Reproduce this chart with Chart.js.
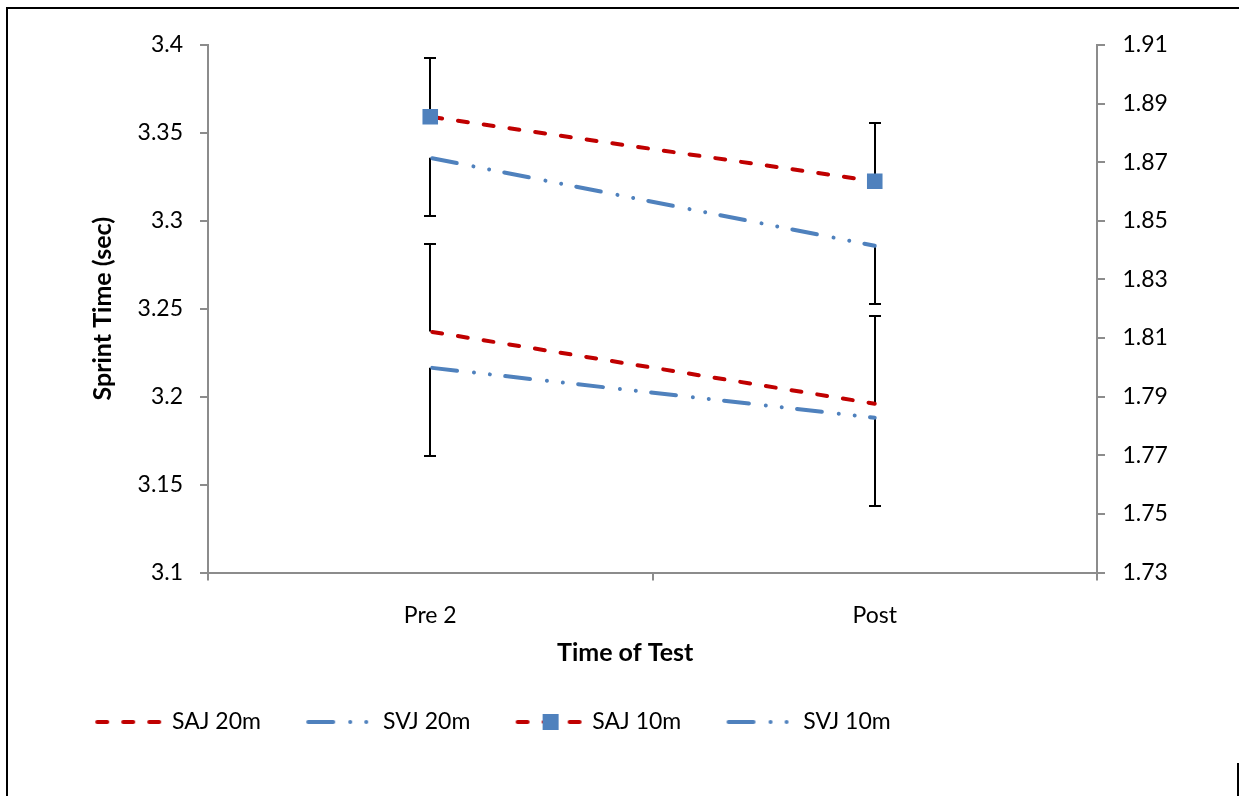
<!DOCTYPE html>
<html>
<head>
<meta charset="utf-8">
<script src="https://cdn.jsdelivr.net/npm/chart.js@4.4.0/dist/chart.umd.min.js"></script>
<style>
  body { margin: 0; background: #fff; }
  #wrap { width: 1239px; height: 796px; position: relative; }
</style>
</head>
<body>
<div id="wrap"><canvas id="sprintChart"></canvas></div>
<script>
const categories = ['Pre 2', 'Post']

// 20m times (left axis)
const saj20 = [3.237, 3.196]
const svj20 = [3.2165, 3.188]
// 10m times (right axis)
const saj10 = [1.8855, 1.8635]
const svj10 = [1.8715, 1.8415]

// error bars - SAJ ones only go up, SVJ ones only go down
const saj20Err = [0.05, 0.05]
const svj20Err = [0.05, 0.05]
const saj10Err = [0.02, 0.02]
const svj10Err = [0.02, 0.02]

// axis ranges
const leftMin = 3.1, leftMax = 3.4, leftStep = 0.05
const rightMin = 1.73, rightMax = 1.91, rightStep = 0.02

const RED = '#C00000'
const BLUE = '#4F81BD'
const AXIS = '#8c8c8c'
const redDash = [10, 16]
const blueDash = [25, 17, 0.01, 16, 0.01, 15.4]

Chart.defaults.font.family = 'Lato'
Chart.defaults.font.size = 23
Chart.defaults.color = '#000'

const lineStyle = (color, dash) => ({
    borderColor: color,
    backgroundColor: color,
    borderWidth: 4,
    borderDash: dash,
    borderDashOffset: -2,
    borderCapStyle: 'round',
    fill: false,
    tension: 0,
    pointRadius: 0
})

const datasets = [
    { label: 'SAJ 20m', data: saj20, yAxisID: 'y', errUp: saj20Err, ...lineStyle(RED, redDash) },
    { label: 'SVJ 20m', data: svj20, yAxisID: 'y', errDown: svj20Err, ...lineStyle(BLUE, blueDash) },
    {
        label: 'SAJ 10m', data: saj10, yAxisID: 'y1', errUp: saj10Err, ...lineStyle(RED, redDash),
        pointStyle: 'rect', pointRadius: 11, pointBackgroundColor: BLUE, pointBorderColor: BLUE, pointBorderWidth: 0
    },
    { label: 'SVJ 10m', data: svj10, yAxisID: 'y1', errDown: svj10Err, ...lineStyle(BLUE, blueDash) }
]

//Legend sample: a short bit of the line (and marker) drawn on a canvas, sitting at the right end of the image
const SAMPLE_LEN = 70
function legendSample(ds) {
    const c = document.createElement('canvas')
    c.width = 110
    c.height = 20
    const g = c.getContext('2d')
    const x0 = c.width - SAMPLE_LEN
    g.strokeStyle = ds.borderColor
    g.lineWidth = ds.borderWidth
    g.lineCap = 'round'
    g.setLineDash(ds.borderDash)
    g.lineDashOffset = ds.borderDashOffset
    g.beginPath()
    g.moveTo(x0, 10)
    g.lineTo(x0 + SAMPLE_LEN, 10)
    g.stroke()
    if (ds.pointRadius > 0) {
        g.fillStyle = ds.pointBackgroundColor
        g.fillRect(x0 + 35 - 8, 2, 16, 16)
    }
    return c
}

const errorBars = {
    id: 'errorBars',
    beforeDatasetsDraw(chart) {
        const c = chart.ctx
        c.save()
        c.strokeStyle = '#000'
        c.lineWidth = 2
        chart.data.datasets.forEach((ds, i) => {
            const meta = chart.getDatasetMeta(i)
            const scale = chart.scales[ds.yAxisID]
            meta.data.forEach((pt, j) => {
                const v = ds.data[j]
                const end = ds.errUp ? v + ds.errUp[j] : v - ds.errDown[j]
                const x = Math.round(pt.x)
                const y0 = scale.getPixelForValue(v)
                const y1 = Math.round(scale.getPixelForValue(end))
                c.beginPath()
                c.moveTo(x, y0)
                c.lineTo(x, y1)
                c.moveTo(x - 6, y1)
                c.lineTo(x + 6, y1)
                c.stroke()
            })
        })
        c.restore()
    }
}

// white background + the black frame edges seen in the picture
const frame = {
    id: 'frame',
    beforeDraw(chart) {
        const c = chart.ctx
        c.save()
        c.fillStyle = '#fff'
        c.fillRect(0, 0, chart.width, chart.height)
        c.strokeStyle = '#000'
        c.lineWidth = 2
        c.beginPath()
        c.moveTo(6, 8)
        c.lineTo(chart.width, 8)
        c.moveTo(7, 7)
        c.lineTo(7, chart.height)
        c.moveTo(1238, 763)
        c.lineTo(1238, chart.height)
        c.stroke()
        c.restore()
    }
}

const fmt = (v) => parseFloat(Number(v).toFixed(2)).toString()

const axisGrid = { display: true, drawOnChartArea: false, drawTicks: true, tickLength: 8, color: AXIS, lineWidth: 2 }
const axisBorder = { display: true, color: AXIS, width: 2 }
const titleFont = { weight: 'bold', size: 25 }

const sprintChart = new Chart(document.getElementById('sprintChart').getContext('2d'), {
    type: 'line',
    data: { labels: categories, datasets: datasets },
    plugins: [frame, errorBars],
    options: {
        responsive: true,
        maintainAspectRatio: false,
        animation: false,
        events: [],
        layout: { padding: { left: 50, right: 0, top: 45, bottom: 52.5 } },
        scales: {
            x: {
                type: 'category',
                offset: true,
                grid: { ...axisGrid, offset: true },
                border: axisBorder,
                ticks: { padding: 21 },
                // trailing spaces nudge the title a bit left of the plot centre, like the original
                title: { display: true, text: 'Time of Test' + '\u00a0'.repeat(9), font: titleFont, padding: { top: 0, bottom: 32.5 } },
                afterFit(scale) { scale.height = 128 }
            },
            y: {
                position: 'left',
                min: leftMin,
                max: leftMax,
                grid: axisGrid,
                border: axisBorder,
                ticks: { stepSize: leftStep, padding: 17, callback: fmt },
                title: { display: true, text: 'Sprint Time (sec)', font: titleFont, padding: { top: 38, bottom: 0 } },
                afterFit(scale) { scale.width = 158 }
            },
            y1: {
                position: 'right',
                min: rightMin,
                max: rightMax,
                grid: axisGrid,
                border: axisBorder,
                ticks: { stepSize: rightStep, padding: 17.5, callback: fmt },
                afterFit(scale) { scale.width = 142 }
            }
        },
        plugins: {
            tooltip: { enabled: false },
            legend: {
                position: 'bottom',
                align: 'start',
                labels: {
                    usePointStyle: true,
                    pointStyleWidth: 100.5,
                    padding: 10,
                    generateLabels(chart) {
                        return chart.data.datasets.map((ds, i) => ({
                            text: ds.label,
                            pointStyle: legendSample(ds),
                            datasetIndex: i,
                            lineWidth: 0,
                            fillStyle: ds.borderColor,
                            strokeStyle: ds.borderColor,
                            fontColor: '#000',
                            hidden: false
                        }))
                    }
                }
            }
        }
    }
})
</script>
</body>
</html>
